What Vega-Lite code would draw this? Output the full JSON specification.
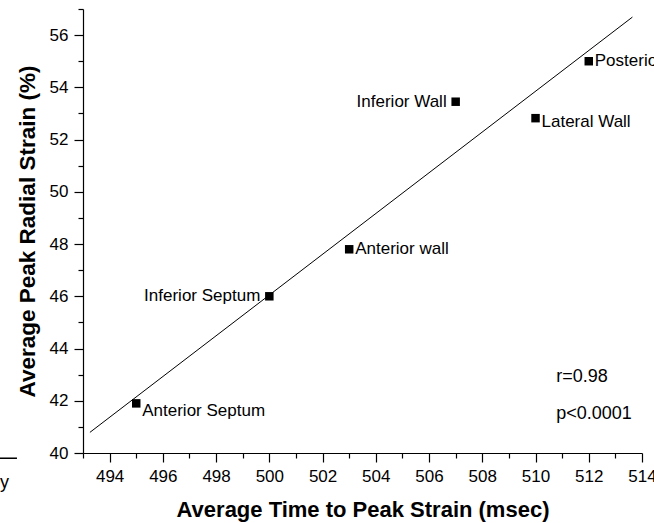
{
  "$schema": "https://vega.github.io/schema/vega-lite/v6.json",
  "width": 559,
  "height": 444,
  "autosize": {"type": "none"},
  "padding": {"left": 83, "top": 9, "right": 12, "bottom": 70},
  "background": "white",
  "config": {
    "view": {"stroke": null},
    "font": "Liberation Sans",
    "axis": {
      "domainColor": "black",
      "domainWidth": 1.2,
      "tickColor": "black",
      "tickWidth": 1.2,
      "grid": false,
      "labelColor": "black",
      "labelFont": "Liberation Sans",
      "labelFontSize": 17,
      "titleColor": "black",
      "titleFont": "Liberation Sans",
      "titleFontSize": 22,
      "titleFontWeight": "bold"
    }
  },
  "datasets": {
    "segments": [
      {"segment": "Anterior Septum", "time": 495, "strain": 41.9},
      {"segment": "Inferior Septum", "time": 500, "strain": 46.0},
      {"segment": "Anterior wall", "time": 503, "strain": 47.8},
      {"segment": "Inferior Wall", "time": 507, "strain": 53.45},
      {"segment": "Lateral Wall", "time": 510, "strain": 52.82},
      {"segment": "Posterior", "time": 512, "strain": 55.0}
    ],
    "fit": [
      {"time": 493.26, "strain": 40.79},
      {"time": 513.64, "strain": 56.69}
    ],
    "stats": [
      {"label": "r=0.98", "time": 510.78, "strain": 42.9},
      {"label": "p<0.0001", "time": 510.78, "strain": 41.5}
    ],
    "fragmentRule": [
      {"time": 489.85, "strain": 39.8},
      {"time": 490.52, "strain": 39.8}
    ],
    "fragmentText": [
      {"label": "y", "time": 489.88, "strain": 38.85}
    ]
  },
  "resolve": {"axis": {"x": "independent", "y": "independent"}},
  "layer": [
    {
      "data": {"name": "fit"},
      "mark": {"type": "line", "color": "black", "strokeWidth": 1, "clip": false},
      "encoding": {
        "x": {
          "field": "time", "type": "quantitative",
          "scale": {"domain": [493, 514], "nice": false, "zero": false},
          "axis": {
            "orient": "bottom",
            "values": [493, 495, 497, 499, 501, 503, 505, 507, 509, 511, 513],
            "tickSize": 5,
            "labels": false,
            "domain": false,
            "title": null
          }
        },
        "y": {
          "field": "strain", "type": "quantitative",
          "scale": {"domain": [40, 57], "nice": false, "zero": false},
          "axis": {
            "orient": "left",
            "values": [41, 43, 45, 47, 49, 51, 53, 55, 57],
            "tickSize": 5,
            "labels": false,
            "domain": false,
            "title": null
          }
        }
      }
    },
    {
      "data": {"name": "segments"},
      "mark": {"type": "point", "shape": "square", "filled": true, "color": "black", "size": 72, "opacity": 1, "strokeWidth": 0},
      "encoding": {
        "x": {
          "field": "time", "type": "quantitative",
          "axis": {
            "orient": "bottom",
            "values": [494, 496, 498, 500, 502, 504, 506, 508, 510, 512, 514],
            "tickSize": 9,
            "labelPadding": 6,
            "labelFlush": false,
            "labelOverlap": false,
            "title": "Average Time to Peak Strain (msec)",
            "titlePadding": 15
          }
        },
        "y": {
          "field": "strain", "type": "quantitative",
          "axis": {
            "orient": "left",
            "values": [40, 42, 44, 46, 48, 50, 52, 54, 56],
            "tickSize": 9,
            "labelPadding": 6,
            "title": "Average Peak Radial Strain (%)",
            "titleFontSize": 22.5,
            "titlePadding": 10
          }
        }
      }
    },
    {
      "data": {"name": "segments"},
      "transform": [{"filter": {"field": "segment", "oneOf": ["Inferior Septum", "Inferior Wall"]}}],
      "mark": {"type": "text", "align": "right", "baseline": "middle", "dx": -9, "fontSize": 17, "color": "black", "font": "Liberation Sans"},
      "encoding": {
        "x": {"field": "time", "type": "quantitative", "axis": null},
        "y": {"field": "strain", "type": "quantitative", "axis": null},
        "text": {"field": "segment"}
      }
    },
    {
      "data": {"name": "segments"},
      "transform": [{"filter": {"field": "segment", "oneOf": ["Anterior wall", "Posterior"]}}],
      "mark": {"type": "text", "align": "left", "baseline": "middle", "dx": 6, "fontSize": 17, "color": "black", "font": "Liberation Sans", "clip": false},
      "encoding": {
        "x": {"field": "time", "type": "quantitative", "axis": null},
        "y": {"field": "strain", "type": "quantitative", "axis": null},
        "text": {"field": "segment"}
      }
    },
    {
      "data": {"name": "segments"},
      "transform": [{"filter": {"field": "segment", "equal": "Lateral Wall"}}],
      "mark": {"type": "text", "align": "left", "baseline": "middle", "dx": 6, "dy": 4, "fontSize": 17, "color": "black", "font": "Liberation Sans"},
      "encoding": {
        "x": {"field": "time", "type": "quantitative", "axis": null},
        "y": {"field": "strain", "type": "quantitative", "axis": null},
        "text": {"field": "segment"}
      }
    },
    {
      "data": {"name": "segments"},
      "transform": [{"filter": {"field": "segment", "equal": "Anterior Septum"}}],
      "mark": {"type": "text", "align": "left", "baseline": "middle", "dx": 6, "dy": 8, "fontSize": 17, "color": "black", "font": "Liberation Sans"},
      "encoding": {
        "x": {"field": "time", "type": "quantitative", "axis": null},
        "y": {"field": "strain", "type": "quantitative", "axis": null},
        "text": {"field": "segment"}
      }
    },
    {
      "data": {"name": "stats"},
      "mark": {"type": "text", "align": "left", "baseline": "middle", "fontSize": 18, "color": "black", "font": "Liberation Sans"},
      "encoding": {
        "x": {"field": "time", "type": "quantitative", "axis": null},
        "y": {"field": "strain", "type": "quantitative", "axis": null},
        "text": {"field": "label"}
      }
    },
    {
      "data": {"name": "fragmentRule"},
      "mark": {"type": "line", "color": "black", "strokeWidth": 1.5, "clip": false},
      "encoding": {
        "x": {"field": "time", "type": "quantitative", "axis": null},
        "y": {"field": "strain", "type": "quantitative", "axis": null}
      }
    },
    {
      "data": {"name": "fragmentText"},
      "mark": {"type": "text", "align": "left", "baseline": "middle", "fontSize": 18, "color": "black", "font": "Liberation Sans", "clip": false},
      "encoding": {
        "x": {"field": "time", "type": "quantitative", "axis": null},
        "y": {"field": "strain", "type": "quantitative", "axis": null},
        "text": {"field": "label"}
      }
    }
  ]
}
